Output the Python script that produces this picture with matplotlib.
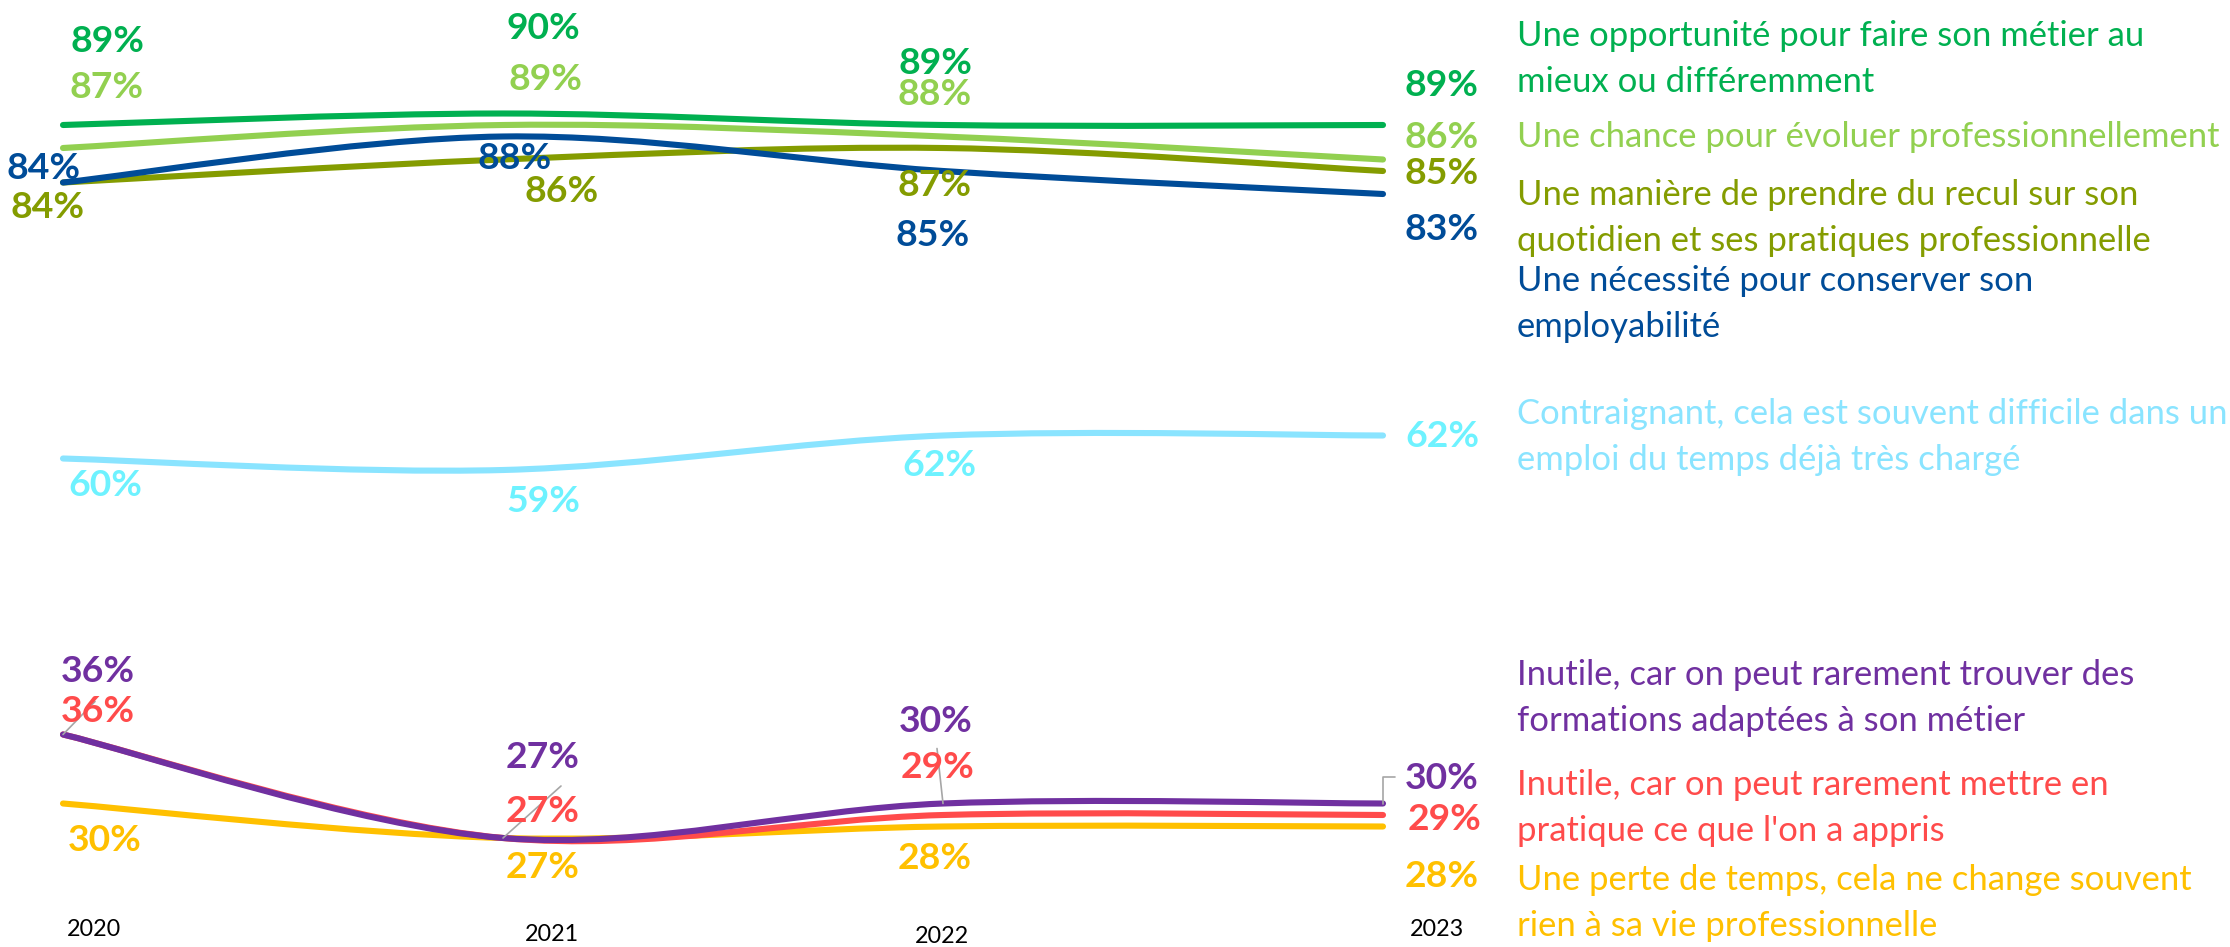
import matplotlib
matplotlib.use('Agg')
import matplotlib.pyplot as plt
from matplotlib.path import Path
from matplotlib.patches import PathPatch

annees = ['2020', '2021', '2022', '2023']

opportunite = [89, 90, 89, 89]
chance = [87, 89, 88, 86]
recul = [84, 86, 87, 85]
necessite = [84, 88, 85, 83]
contraignant = [60, 59, 62, 62]
inutile_formations = [36, 27, 30, 30]
inutile_pratique = [36, 27, 29, 29]
perte_temps = [30, 27, 28, 28]

libelles = [
    "Une opportunité pour faire son métier au\nmieux ou différemment",
    "Une chance pour évoluer professionnellement",
    "Une manière de prendre du recul sur son\nquotidien et ses pratiques professionnelle",
    "Une nécessité pour conserver son\nemployabilité",
    "Contraignant, cela est souvent difficile dans un\nemploi du temps déjà très chargé",
    "Inutile, car on peut rarement trouver des\nformations adaptées à son métier",
    "Inutile, car on peut rarement mettre en\npratique ce que l'on a appris",
    "Une perte de temps, cela ne change souvent\nrien à sa vie professionnelle",
]

series = [opportunite, chance, recul, necessite, contraignant,
          inutile_formations, inutile_pratique, perte_temps]

# styles
couleurs = ['#00B050', '#92D050', '#849C00', '#004C98', '#8AE4FF',
            '#7030A0', '#FF4B4B', '#FFC000']
couleurs_val = ['#00B050', '#92D050', '#849C00', '#004C98', '#6EF2FF',
                '#7030A0', '#FF4B4B', '#FFC000']
ordre = [0, 1, 2, 3, 4, 7, 6, 5]

# decalages des etiquettes de valeur (pixels) par serie et par annee
decalages = [
    [(44, 84), (40, 85), (-8, 62), (59, 40)],
    [(44, 61), (43, 45), (-8, 42), (59, 22)],
    [(-15, -25), (59, -32), (-8, -37), (59, -2)],
    [(-19, 14), (12, -22), (-10, -65), (59, -36)],
    [(42, -27), (40, -31), (-4, -30), (59, -1)],
    [(35, 63), (40, 81), (-7, 82), (59, 25)],
    [(35, 23), (40, 27), (-5, 47), (62, -4)],
    [(42, -37), (40, -29), (-8, -32), (59, -50)],
]
# y du centre de la premiere ligne (pixels depuis le haut)
libelles_y = [36, 137, 195, 281, 414, 675, 785, 880]

plt.rcParams['font.family'] = ['Lato', 'DejaVu Sans']

W, H = 2230, 947
fig = plt.figure(figsize=(W / 100, H / 100), dpi=100)
ax = fig.add_axes([63 / W, 1 - 849.5 / H, 1320 / W, 839.5 / H])
ax.set_xlim(0, 3)
ax.set_ylim(26, 99)
ax.axis('off')
rend = fig.canvas.get_renderer()


def taille_pour(texte, largeur, **kw):
    t = fig.text(0, 0, texte, fontsize=20, **kw)
    w = t.get_window_extent(rend).width
    t.remove()
    return 20 * largeur / w


taille_lib = taille_pour("Une chance pour évoluer professionnellement", 703)
taille_val = taille_pour("89%", 74, fontweight='bold')
taille_an = taille_pour("2020", 54)


def chemin_lisse(xs, ys):
    pts = list(zip(xs, ys))
    n = len(pts)
    verts = [pts[0]]
    codes = [Path.MOVETO]
    for i in range(n - 1):
        p0 = pts[max(i - 1, 0)]
        p1 = pts[i]
        p2 = pts[i + 1]
        p3 = pts[min(i + 2, n - 1)]
        c1 = (p1[0] + (p2[0] - p0[0]) / 6, p1[1] + (p2[1] - p0[1]) / 6)
        c2 = (p2[0] - (p3[0] - p1[0]) / 6, p2[1] - (p3[1] - p1[1]) / 6)
        verts += [c1, c2, p2]
        codes += [Path.CURVE4] * 3
    return Path(verts, codes)


xs = list(range(len(annees)))
for k in ordre:
    patch = PathPatch(chemin_lisse(xs, series[k]), facecolor='none',
                      edgecolor=couleurs[k], lw=4.4, capstyle='round',
                      clip_on=False)
    ax.add_patch(patch)

# traits de rappel
gris = '#A6A6A6'
for (i, s, dx, dy) in [(0, inutile_pratique, 32, 33), (1, inutile_pratique, 58, 52),
                       (2, inutile_formations, -6, 55)]:
    ax.annotate('', xy=(i, s[i]), xytext=(dx, dy), textcoords='offset pixels',
                arrowprops=dict(arrowstyle='-', color=gris, lw=1.2,
                                shrinkA=0, shrinkB=0))
ax.annotate('', xy=(3, inutile_formations[3]), xytext=(12, 27),
            textcoords='offset pixels',
            arrowprops=dict(arrowstyle='-', color=gris, lw=1.2, shrinkA=0, shrinkB=0,
                            connectionstyle='angle,angleA=0,angleB=90,rad=0'))

for k, s in enumerate(series):
    for i, v in enumerate(s):
        dx, dy = decalages[k][i]
        ax.annotate(f'{v}%', xy=(i, v), xytext=(dx, dy), textcoords='offset pixels',
                    ha='center', va='center', fontsize=taille_val, fontweight='bold',
                    color=couleurs_val[k], annotation_clip=False)

# annees
annees_dec = [(31, -80), (49, -85), (-1, -87), (54, -80)]
for i, a in enumerate(annees):
    dx, dy = annees_dec[i]
    ax.annotate(a, xy=(i, 26), xytext=(dx, dy), textcoords='offset pixels',
                ha='center', va='center', fontsize=taille_an, color='black',
                annotation_clip=False)

# libelles a droite
for k, txt in enumerate(libelles):
    for j, ligne in enumerate(txt.split('\n')):
        fig.text(1517 / W, 1 - (libelles_y[k] + 46 * j) / H, ligne,
                 ha='left', va='center', fontsize=taille_lib, color=couleurs[k])

fig.savefig('out.png', dpi=100, facecolor='white')
